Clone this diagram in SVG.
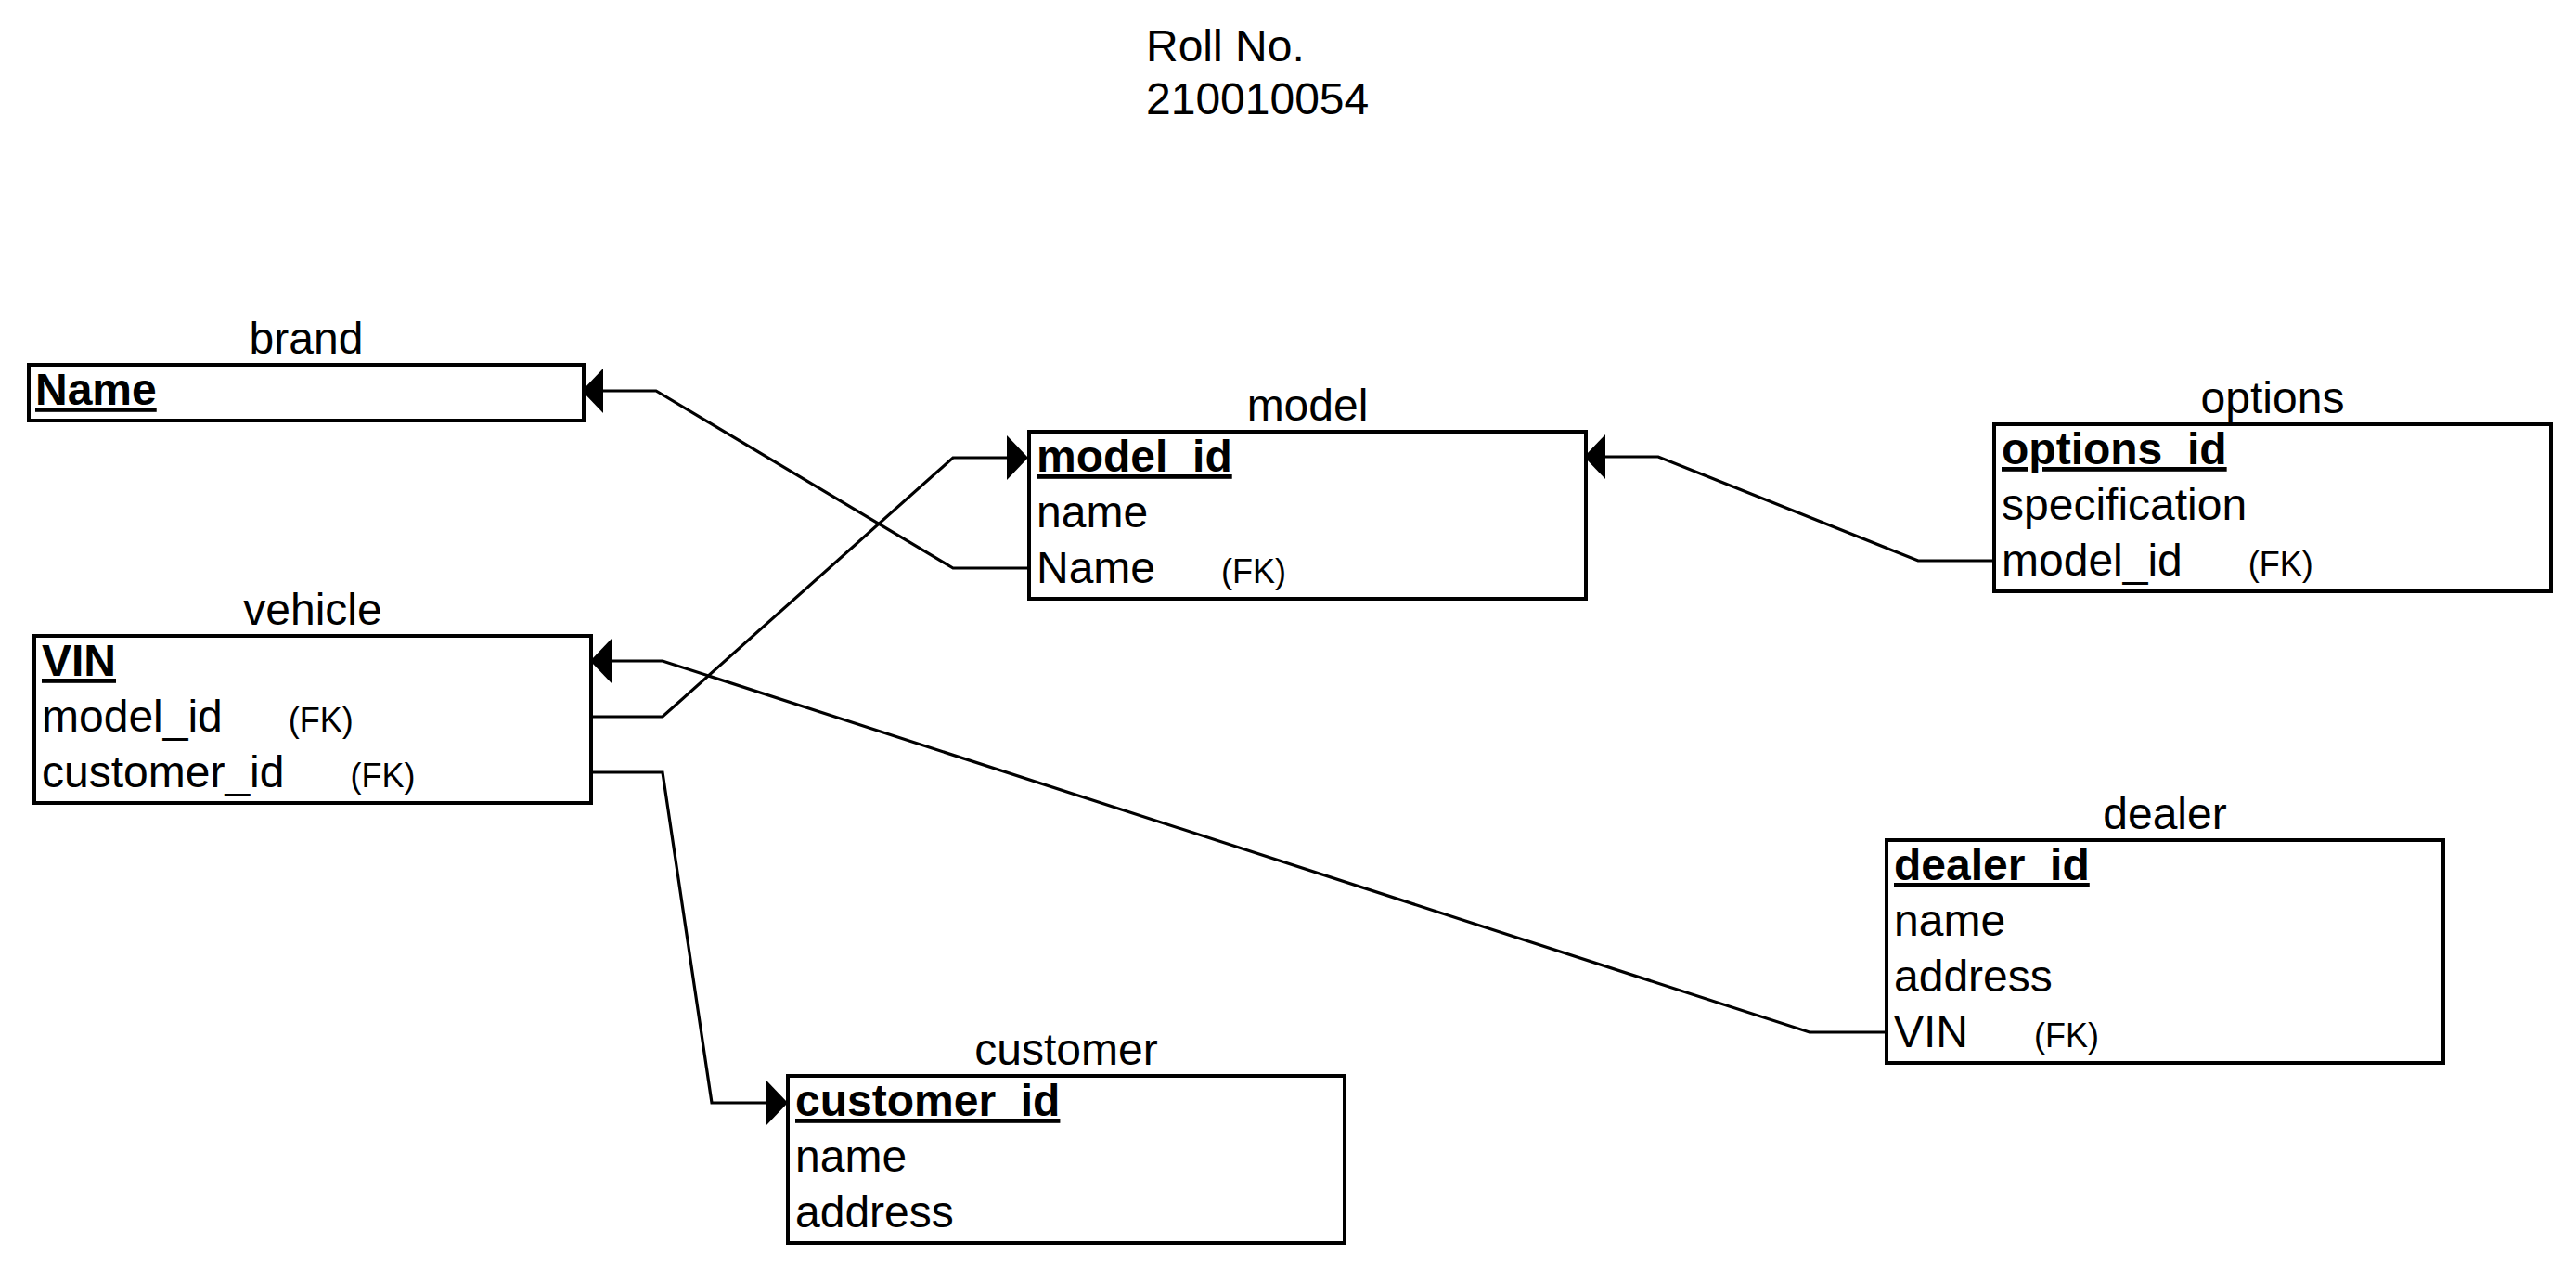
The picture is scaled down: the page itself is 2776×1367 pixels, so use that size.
<svg xmlns="http://www.w3.org/2000/svg" width="2776" height="1367" viewBox="0 0 2776 1367">
  <defs>
    <style>
      text { font-family: "Liberation Sans", Arial, Helvetica, sans-serif; font-size: 48px; fill: #000; }
      .title { text-anchor: middle; }
      .pk { font-weight: bold; text-decoration: underline; }
      .fk { font-size: 36px; }
      .box { fill: #fff; stroke: #000; stroke-width: 4; }
      .rel { fill: none; stroke: #000; stroke-width: 3.2; stroke-linejoin: miter; marker-end: url(#arrow); }
    </style>
    <!-- filled block arrow; its base sits on the path end, tip points onward -->
    <marker id="arrow" markerUnits="userSpaceOnUse" viewBox="0 0 23 48" markerWidth="23" markerHeight="48" refX="0" refY="24" orient="auto">
      <path d="M0,0 L23,24 L0,48 Z" fill="#000"/>
    </marker>
  </defs>

  <rect width="2776" height="1367" fill="#fff"/>

  <g id="header">
    <text x="1235" y="66">Roll No.</text>
    <text x="1235" y="123">210010054</text>
  </g>

  <!-- relationships: foreign key row -> referenced primary key -->
  <g id="connectors">
    <path class="rel" d="M1109,612 H1027 L707,421 H650"/>
    <path class="rel" d="M637,772 H714 L1027,493 H1085"/>
    <path class="rel" d="M2149,604 H2067 L1787,492 H1730"/>
    <path class="rel" d="M2033,1112 H1950 L714,712 H659"/>
    <path class="rel" d="M637,832 H714 L767,1188 H826"/>
  </g>

  <g id="brand">
    <text class="title" x="330" y="381">brand</text>
    <rect class="box" x="31" y="393" width="598" height="60"/>
    <text class="pk" x="38" y="436">Name</text>
  </g>

  <g id="model">
    <text class="title" x="1409" y="453">model</text>
    <rect class="box" x="1109" y="465" width="600" height="180"/>
    <text class="pk" x="1117" y="508">model_id</text>
    <text x="1117" y="568">name</text>
    <text x="1117" y="628">Name<tspan class="fk" dx="71">(FK)</tspan></text>
  </g>

  <g id="options">
    <text class="title" x="2449" y="445">options</text>
    <rect class="box" x="2149" y="457" width="600" height="180"/>
    <text class="pk" x="2157" y="500">options_id</text>
    <text x="2157" y="560">specification</text>
    <text x="2157" y="620">model_id<tspan class="fk" dx="71">(FK)</tspan></text>
  </g>

  <g id="vehicle">
    <text class="title" x="337" y="673">vehicle</text>
    <rect class="box" x="37" y="685" width="600" height="180"/>
    <text class="pk" x="45" y="728">VIN</text>
    <text x="45" y="788">model_id<tspan class="fk" dx="71">(FK)</tspan></text>
    <text x="45" y="848">customer_id<tspan class="fk" dx="71">(FK)</tspan></text>
  </g>

  <g id="dealer">
    <text class="title" x="2333" y="893">dealer</text>
    <rect class="box" x="2033" y="905" width="600" height="240"/>
    <text class="pk" x="2041" y="948">dealer_id</text>
    <text x="2041" y="1008">name</text>
    <text x="2041" y="1068">address</text>
    <text x="2041" y="1128">VIN<tspan class="fk" dx="71">(FK)</tspan></text>
  </g>

  <g id="customer">
    <text class="title" x="1149" y="1147">customer</text>
    <rect class="box" x="849" y="1159" width="600" height="180"/>
    <text class="pk" x="857" y="1202">customer_id</text>
    <text x="857" y="1262">name</text>
    <text x="857" y="1322">address</text>
  </g>
</svg>
